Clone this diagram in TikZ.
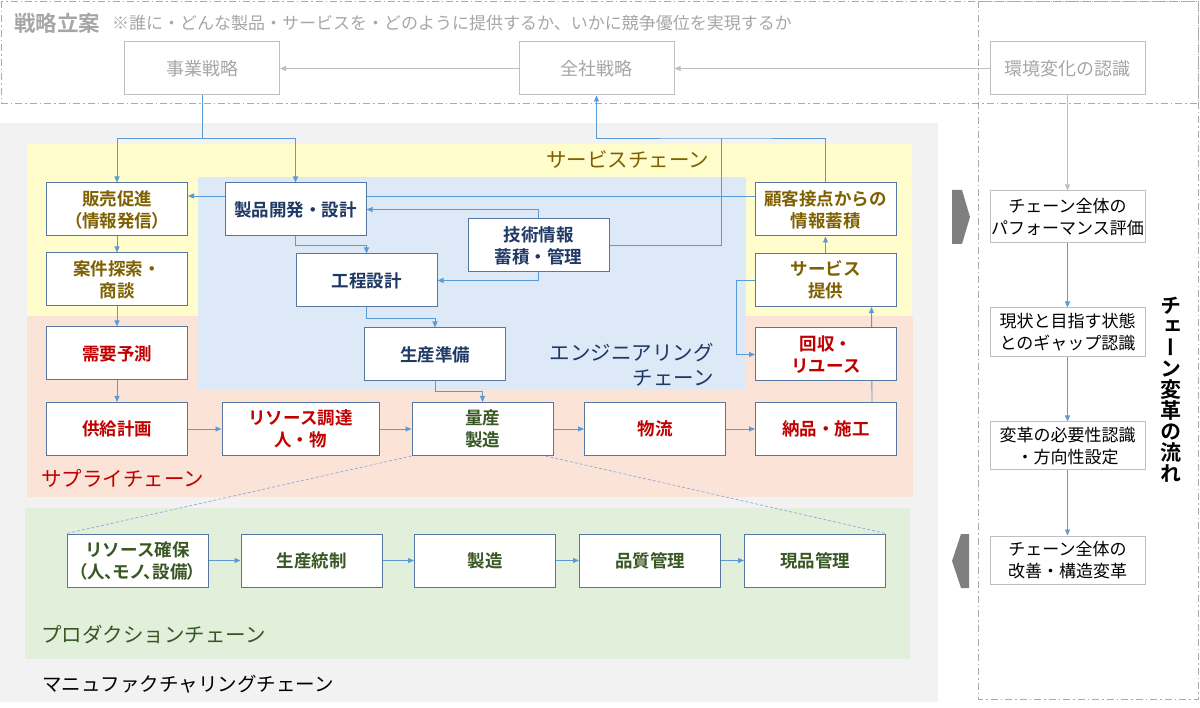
\documentclass[tikz,border=0pt]{standalone}
\usepackage{fontspec}
\setmainfont{Noto Sans CJK JP}[BoldFont={Noto Sans CJK JP Bold}]
\newfontfamily\vertjp{Noto Sans CJK JP}[RawFeature=+vert,BoldFont={Noto Sans CJK JP Bold}]
\usetikzlibrary{arrows.meta}
\definecolor{boxline}{HTML}{5577A2}
\definecolor{arrblue}{HTML}{5B9BD5}
\definecolor{stgray}{HTML}{BFBFBF}
\definecolor{sttext}{HTML}{A6A6A6}
\definecolor{framegray}{HTML}{ABABAB}
\definecolor{mfgbg}{HTML}{F2F2F2}
\definecolor{svcbg}{HTML}{FFFDCC}
\definecolor{engbg}{HTML}{DDE9F6}
\definecolor{supbg}{HTML}{FBE4D7}
\definecolor{prdbg}{HTML}{E2EFDA}
\definecolor{svctext}{HTML}{7F6000}
\definecolor{engtext}{HTML}{1F3864}
\definecolor{suptext}{HTML}{C00000}
\definecolor{prdtext}{HTML}{385723}
\definecolor{chevron}{HTML}{7F7F7F}
\definecolor{dotblue}{HTML}{8FAADC}
\pgfdeclarelayer{bg}
\pgfdeclarelayer{ln}
\pgfsetlayers{bg,ln,main}
\newcommand{\narrowtxt}[1]{{\addfontfeature{RawFeature=+palt}#1}}

\begin{document}
\begin{tikzpicture}[x=1pt, y=-1pt,
		box/.style={draw=boxline, line width=1pt, fill=white, minimum width=141pt,
			minimum height=53pt, inner sep=0pt, align=center,
			font=\bfseries\fontsize{17.5}{22}\selectfont},
		svcbox/.style={box, text=svctext},
		engbox/.style={box, text=engtext},
		supbox/.style={box, text=suptext},
		prdbox/.style={box, text=prdtext},
		stbox/.style={draw=stgray, line width=1pt, fill=white, minimum width=155pt,
			minimum height=53pt, inner sep=0pt, text=sttext,
			font=\fontsize{18}{22}\selectfont},
		rcbox/.style={draw=stgray, line width=1pt, fill=white, minimum width=155pt,
			minimum height=49pt, inner sep=0pt, align=center,
			font=\fontsize{17}{22}\selectfont},
		chainlbl/.style={inner sep=0pt, font=\fontsize{20.5}{25}\selectfont},
		link/.style={draw=arrblue, line width=0.9pt},
		arr/.style={link, -{Triangle[length=6pt,width=5pt]}},
		garr/.style={draw=stgray, line width=1pt, -{Triangle[length=6pt,width=5pt]}},
		guide/.style={draw=dotblue, line width=0.7pt, densely dashed},
		frame/.style={draw=framegray, line width=0.9pt,
			dash pattern=on 7pt off 3pt on 1.5pt off 3pt}]
	\useasboundingbox (0,0) rectangle (1200,708);

	\begin{pgfonlayer}{bg}
		\fill[mfgbg] (0,123) rectangle (938,702);
		\fill[svcbg] (27,144) rectangle (912,316);
		\fill[supbg] (27,316) rectangle (913,497);
		\fill[engbg] (198,177) rectangle (746,390);
		\fill[prdbg] (25,508) rectangle (910,659);
		\draw[frame] (1,1) rectangle (1198,103);
		\draw[frame] (978,1) rectangle (1198,699);
		\fill[chevron] (952,190) -- (962,190) -- (970,217) -- (962,244)
			-- (952,244) -- cycle;
		\fill[chevron] (969,534) -- (961,534) -- (952,561) -- (961,588)
			-- (969,588) -- cycle;
	\end{pgfonlayer}

	\node[anchor=west, inner sep=0pt, text=sttext,
		font=\bfseries\fontsize{21.5}{21}\selectfont] (ttl) at (14,23) {戦略立案};
	\node[anchor=west, inner sep=0pt, text=sttext,
		font=\fontsize{17}{17}\selectfont] (subttl) at (112,23)
		{※誰に・どんな製品・サービスを・どのように提供するか、いかに競争優位を実現するか};

	\node[stbox] (JS) at (202,68.5) {事業戦略};
	\node[stbox] (ZS) at (596.5,68.5) {全社戦略};
	\node[stbox] (KH) at (1067.5,68.5) {環境変化の認識};

	\node[svcbox] (S1) at (117,209.5) {販売促進\\\narrowtxt{（情報発信）}};
	\node[svcbox] (S2) at (117,279.5) {案件探索・\\商談};
	\node[svcbox] (C1) at (825.5,209.5) {顧客接点からの\\情報蓄積};
	\node[svcbox] (C2) at (825.5,280) {サービス\\提供};

	\node[engbox] (E1) at (295.5,209.5) {製品開発・設計};
	\node[engbox] (E2) at (366.5,280.5) {工程設計};
	\node[engbox] (E3) at (538.5,245.5) {技術情報\\蓄積・管理};
	\node[engbox] (E4) at (435,354.5) {生産準備};

	\node[supbox] (D1) at (117,353.5) {需要予測};
	\node[supbox] (R1) at (826,354.5) {回収・\\リユース};
	\node[supbox] (P1) at (117,429) {供給計画};
	\node[supbox, minimum width=157pt] (P2) at (300.5,429) {リソース調達\\人・物};
	\node[prdbox] (P3) at (482.5,429) {量産\\製造};
	\node[supbox] (P4) at (655,429) {物流};
	\node[supbox] (P5) at (826,429) {納品・施工};

	\node[prdbox] (PR1) at (137.5,560.5) {リソース確保\\\narrowtxt{（人、モノ、設備）}};
	\node[prdbox] (PR2) at (311.5,560.5) {生産統制};
	\node[prdbox] (PR3) at (485,560.5) {製造};
	\node[prdbox] (PR4) at (650,560.5) {品質管理};
	\node[prdbox] (PR5) at (815,560.5) {現品管理};

	\node[chainlbl, text=svctext, anchor=west] (svclbl) at (546,160) {サービスチェーン};
	\node[chainlbl, text=engtext, align=right, anchor=east] (englbl) at (714,364.5)
		{エンジニアリング\\チェーン};
	\node[chainlbl, text=suptext, anchor=west] (suplbl) at (41,478) {サプライチェーン};
	\node[chainlbl, text=prdtext, anchor=west] (prdlbl) at (41,635)
		{プロダクションチェーン};
	\node[chainlbl, text=black, anchor=west, font=\fontsize{19.5}{24}\selectfont]
		(mfglbl) at (42,684) {マニュファクチャリングチェーン};

	\node[rcbox, minimum height=52pt] (RC1) at (1067.5,217) {チェーン全体の\\パフォーマンス評価};
	\node[rcbox] (RC2) at (1067.5,332.5) {現状と目指す状態\\とのギャップ認識};
	\node[rcbox, minimum height=48pt] (RC3) at (1067.5,446) {変革の必要性認識\\・方向性設定};
	\node[rcbox, minimum height=48pt] (RC4) at (1067.5,560) {チェーン全体の\\改善・構造変革};
	\node[inner sep=0pt, align=center, font=\vertjp\bfseries\fontsize{21}{21}\selectfont]
		(flowlbl) at (1171,390) {チ\\ェ\\ー\\ン\\変\\革\\の\\流\\れ};

	\begin{pgfonlayer}{ln}
		\draw[garr] (ZS.west) -- (JS.east);
		\draw[garr] (KH.west) -- (ZS.east);
		\draw[garr] (KH.south) -- (RC1.north);

		\draw[link] (JS.south) -- ++(0,43) coordinate (split);
		\draw[arr] (split) -| (S1.north);
		\draw[arr] (split) -| (E1.north);
		\draw[arr] ([yshift=13.5pt]C1.west) -- ([yshift=13.5pt]S1.east);

		\draw[arr] (E1.south) -- ++(0,9) -| (E2.north);
		\draw[arr] (E2.south) -- ++(0,11) -| (E4.north);
		\draw[arr] (E4.south) -- ++(0,10) -| (P3.north);
		\draw[arr] (E3.north) |- (E1.east);
		\draw[arr] (E3.south) |- (E2.east);
		\coordinate (jn) at (721,138);
		\draw[link] (E3.east) -| (jn);
		\draw[arr] (C1.north) |- (jn) -| (ZS.south);

		\draw[arr] (S1) -- (S2);
		\draw[arr] (S2) -- (D1);
		\draw[arr] (D1) -- (P1);
		\draw[arr] (P1) -- (P2);
		\draw[arr] (P2) -- (P3);
		\draw[arr] (P3) -- (P4);
		\draw[arr] (P4) -- (P5);
		\draw[arr] ([xshift=46pt]P5.north) -- ([xshift=46pt]C2.south);
		\draw[arr] (C2) -- (C1);
		\draw[arr] (C2.west) -- ++(-18,0) |- (R1.west);

		\draw[guide] (P3.south west) -- (PR1.north west);
		\draw[guide] ([xshift=-8pt]P3.south east) -- (PR5.north east);
		\draw[arr] (PR1) -- (PR2);
		\draw[arr] (PR2) -- (PR3);
		\draw[arr] (PR3) -- (PR4);
		\draw[arr] (PR4) -- (PR5);

		\draw[arr] (RC1) -- (RC2);
		\draw[arr] (RC2) -- (RC3);
		\draw[arr] (RC3) -- (RC4);
	\end{pgfonlayer}
\end{tikzpicture}
\end{document}
